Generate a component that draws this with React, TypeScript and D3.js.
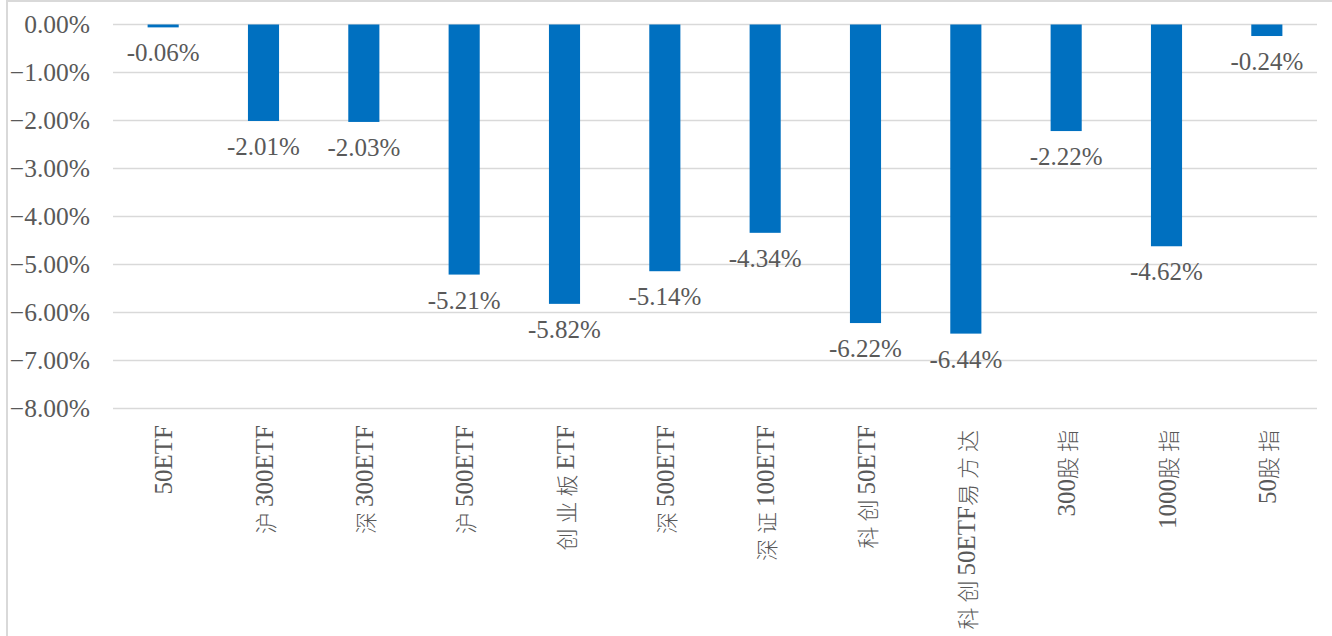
import React from "react";
import * as d3 from "d3";

const categories = [
  "50ETF",
  "沪300ETF",
  "深300ETF",
  "沪500ETF",
  "创业板ETF",
  "深500ETF",
  "深证100ETF",
  "科创50ETF",
  "科创50ETF易方达",
  "300股指",
  "1000股指",
  "50股指",
];
const values = [-0.06, -2.01, -2.03, -5.21, -5.82, -5.14, -4.34, -6.22, -6.44, -2.22, -4.62, -0.24];
const yTicks = [0, -1, -2, -3, -4, -5, -6, -7, -8];

const W = 1332;
const H = 636;
const FONT = "'Liberation Serif', 'Times New Roman', 'Noto Sans CJK SC', serif";
const CJK_FONT = "'Noto Sans CJK SC', sans-serif";

function splitRuns(s: string) {
  return s.match(/[\u4e00-\u9fff]+|[^\u4e00-\u9fff]+/g) || [s];
}

export default function App() {
  const x = d3.scaleBand<string>().domain(categories).range([113, 1317]).paddingInner(0.69).paddingOuter(0.345);
  const y = d3.scaleLinear().domain([0, -8]).range([24.5, 408.5]);
  const textColor = "#595959";

  return (
    <svg width={W} height={H} style={{ position: "absolute", left: 0, top: 0, background: "#fff" }}>
      <rect x={7} y={1} width={W + 10} height={H + 10} fill="#fff" stroke="#d9d9d9" strokeWidth={2} />
      {yTicks.map((t) => (
        <g key={t}>
          <line x1={113} x2={1317} y1={y(t)} y2={y(t)} stroke="#d9d9d9" strokeWidth={1.5} />
          <text x={90} y={y(t)} dy="0.35em" textAnchor="end" fontFamily={FONT} fontSize={25.5} fill={textColor}>
            {d3.format(".2f")(t) + "%"}
          </text>
        </g>
      ))}
      {categories.map((c, i) => {
        const v = values[i];
        const bx = x(c)!;
        const bw = x.bandwidth();
        return (
          <g key={c}>
            <rect x={bx} y={y(0)} width={bw} height={y(v) - y(0)} fill="#0070C0" />
            <text x={bx + bw / 2} y={y(v) + 34} textAnchor="middle" fontFamily={FONT} fontSize={25} fill={textColor}>
              {v.toFixed(2) + "%"}
            </text>
            <text
              transform={`translate(${bx + bw / 2},425) rotate(-90)`}
              textAnchor="end"
              dominantBaseline="central"
              fontFamily={FONT}
              fontSize={25}
              fill={textColor}
            >
              {splitRuns(c).map((r, k) =>
                /[\u4e00-\u9fff]/.test(r) ? (
                  <tspan key={k} fontFamily={CJK_FONT} fontSize={22} letterSpacing={5} fontWeight={300}>
                    {r}
                  </tspan>
                ) : (
                  <tspan key={k}>{r}</tspan>
                )
              )}
            </text>
          </g>
        );
      })}
    </svg>
  );
}
